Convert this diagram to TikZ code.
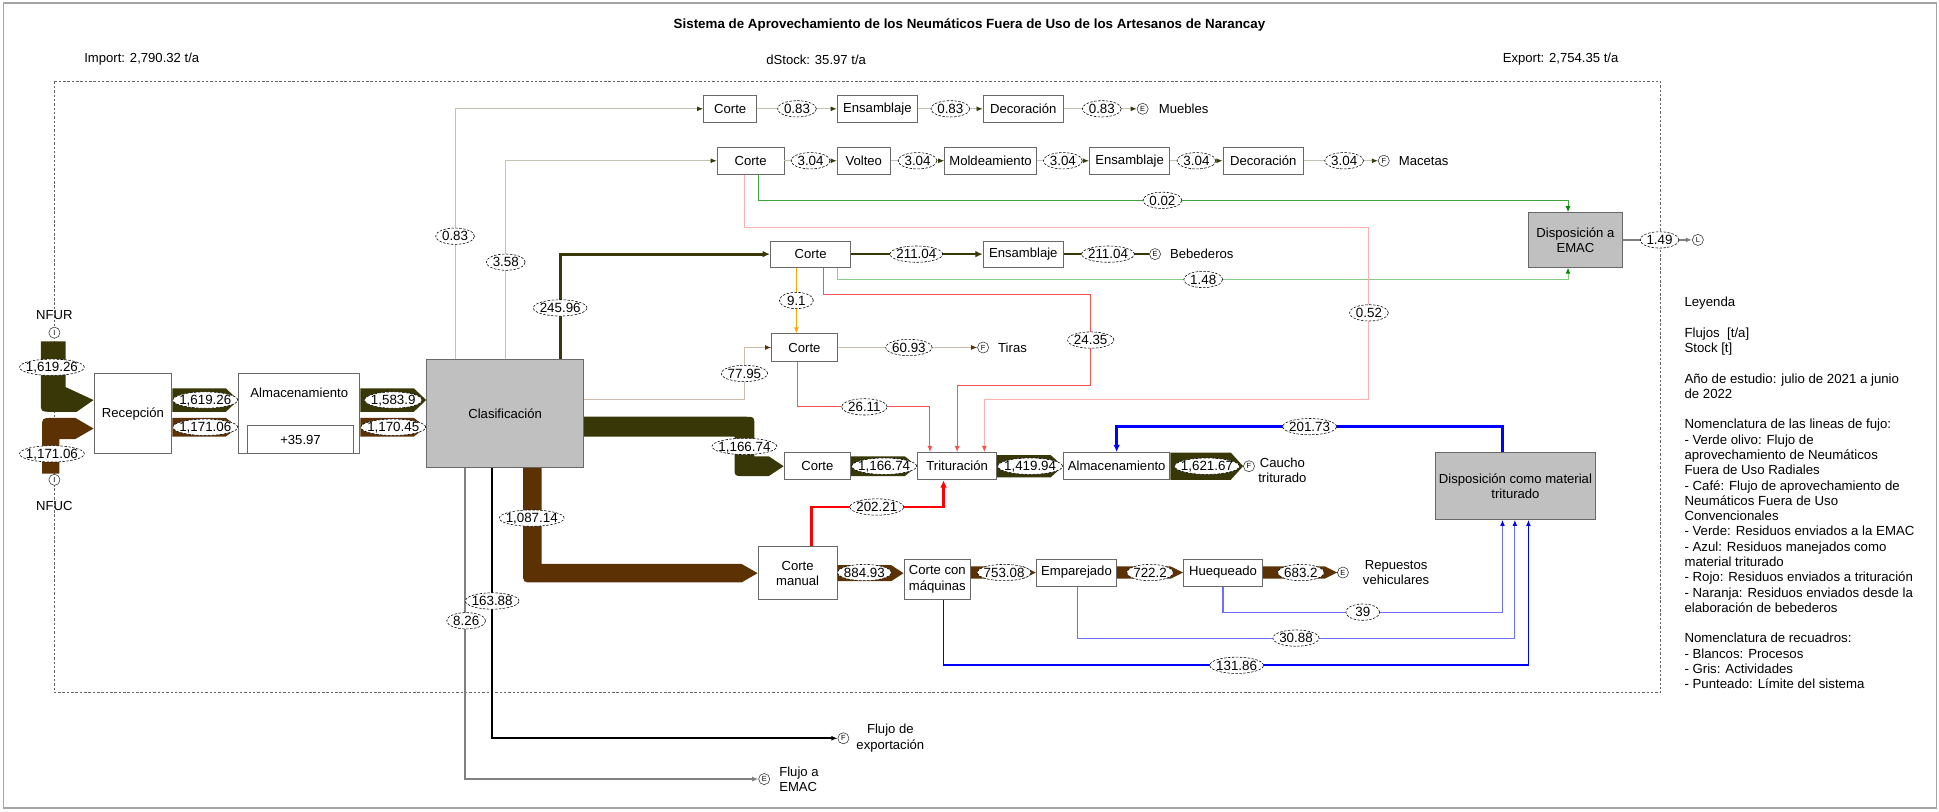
\documentclass[tikz,border=0pt]{standalone}
\usepackage{fontspec}
\setmainfont{Liberation Sans}
\usetikzlibrary{arrows.meta,calc,shapes.geometric}

\definecolor{olv}{RGB}{55,55,8}
\definecolor{brn}{RGB}{92,50,4}
\definecolor{boxline}{RGB}{105,105,105}
\definecolor{actfill}{RGB}{192,192,192}
\definecolor{pale}{RGB}{196,196,178}
\definecolor{tanline}{RGB}{206,190,174}
\definecolor{redA}{RGB}{255,80,80}
\definecolor{redP}{RGB}{255,175,175}
\definecolor{redT}{RGB}{255,0,0}
\definecolor{grnA}{RGB}{60,165,60}
\definecolor{grnP}{RGB}{135,205,135}
\definecolor{grnTip}{RGB}{0,140,0}
\definecolor{blu}{RGB}{0,0,255}
\definecolor{bluP}{RGB}{110,110,255}
\definecolor{org}{RGB}{255,165,0}
\definecolor{bnd}{RGB}{100,100,100}
\definecolor{frame}{RGB}{165,165,165}

\newcommand\nodefont{\fontsize{10.6}{12.4}\selectfont}
\newcommand\labfont{\fontsize{10.8}{12}\selectfont}
\newcommand\legfont{\fontsize{10.7}{12.36}\selectfont}

% flow value in a dashed ellipse: a phantom node gives the size,
% the ellipse is filled over the lines, the value is set on top
\newcommand\flowlab[3]{%
  \node[labsize] (#1) at (#2) {\phantom{#3}};
  \path[labshape] let \p1=($(#1.east)-(#1.center)$) in
    (#1.center) ellipse [x radius=\x1, y radius=6.6pt];
  \node[labtext] (#1t) at (#1.center) {#3};}

% straight Sankey band with an arrow point: colour, from, to, top y, bottom y
\newcommand\flowband[5]{%
  \fill[#1] (#2.east |- 0,#4) -- ($(#3.west |- 0,#4)+(-10,0)$)
    -- ($(#3.west |- 0,#4)!0.5!(#3.west |- 0,#5)$)
    -- ($(#3.west |- 0,#5)+(-10,0)$) -- (#2.east |- 0,#5) -- cycle;}

\begin{document}
\begin{tikzpicture}[x=1pt,y=-1pt,
  procbox/.style={draw=boxline, line width=0.7pt, fill=white, inner sep=1pt, align=center, font=\nodefont},
  actbox/.style={procbox, fill=actfill},
  labsize/.style={rectangle, inner xsep=5pt, inner ysep=0pt, minimum width=27pt,
    font=\labfont, text height=7.6pt, text depth=0pt},
  labshape/.style={draw=black, line width=0.45pt, dash pattern=on 2pt off 1.2pt, fill=white},
  labtext/.style={inner sep=0pt, font=\labfont, text height=7.6pt, text depth=0pt},
  term/.style={circle, draw=black!80, line width=0.45pt, fill=white, inner sep=0pt,
    minimum size=9pt, font=\fontsize{6}{6}\selectfont},
  txt/.style={font=\nodefont, inner sep=0pt, align=center},
  tipO/.style={-{Latex[length=5pt,width=4pt,color=olv]}},
  tipB/.style={-{Latex[length=5pt,width=4pt,color=brn]}},
  tip/.style={-{Latex[length=5pt,width=4pt]}},
  thin/.style={line width=0.8pt}]

\useasboundingbox (0,0) rectangle (1568,656);
\draw[frame, line width=1.2pt] (3,2.5) rectangle (1566,653.5);

% header
\node[font=\fontsize{10.8}{12}\selectfont\bfseries] (title) at (784,20)
  {Sistema de Aprovechamiento de los Neumáticos Fuera de Uso de los Artesanos de Narancay};
\node[txt, anchor=west] (imp) at (68,48) {Import: 2,790.32 t/a};
\node[txt] (dst) at (660,48) {dStock: 35.97 t/a};
\node[txt] (exp) at (1262,48) {Export: 2,754.35 t/a};

% system boundary
\draw[bnd, line width=0.6pt, dash pattern=on 2pt off 1.5pt] (44,66) rectangle (1343,560);

% processes and activities
\node[procbox, minimum width=63pt, minimum height=65pt] (rec) at (107.5,334.5) {Recepción};
\node[procbox, minimum width=98pt, minimum height=65pt] (alm) at (242,334.5) {};
\node[txt] (almt) at (242,318) {Almacenamiento};
\node[procbox, minimum width=86pt, minimum height=23pt] (stk) at (243,355.5) {+35.97};
\node[actbox, minimum width=127pt, minimum height=87pt] (cla) at (408.5,334.5) {Clasificación};

\node[procbox, minimum width=43pt, minimum height=22pt] (cM) at (590.5,88) {Corte};
\node[procbox, minimum width=65pt, minimum height=22pt] (eM) at (709.5,88) {Ensamblaje};
\node[procbox, minimum width=65pt, minimum height=22pt] (dM) at (827.5,88) {Decoración};

\node[procbox, minimum width=54pt, minimum height=22pt] (cP) at (607,130) {Corte};
\node[procbox, minimum width=43pt, minimum height=22pt] (vo) at (698.5,130) {Volteo};
\node[procbox, minimum width=74pt, minimum height=22pt] (mo) at (801,130) {Moldeamiento};
\node[procbox, minimum width=65pt, minimum height=22pt] (eP) at (913.5,130) {Ensamblaje};
\node[procbox, minimum width=65pt, minimum height=22pt] (dP) at (1021.5,130) {Decoración};

\node[procbox, minimum width=65pt, minimum height=21pt] (cB) at (655.5,205.5) {Corte};
\node[procbox, minimum width=65pt, minimum height=21pt] (eB) at (827.5,205.5) {Ensamblaje};

\node[procbox, minimum width=53pt, minimum height=22pt] (cT) at (650.5,281) {Corte};

\node[procbox, minimum width=54pt, minimum height=22pt] (cC) at (661,377) {Corte};
\node[procbox, minimum width=64pt, minimum height=22pt] (tri) at (774,377) {Trituración};
\node[procbox, minimum width=86pt, minimum height=22pt] (alm2) at (903,377) {Almacenamiento};

\node[actbox, minimum width=129pt, minimum height=54pt] (dmt) at (1225.5,393) {Disposición como material\\triturado};
\node[actbox, minimum width=76pt, minimum height=44pt] (emac) at (1274,194) {Disposición a\\EMAC};

\node[procbox, minimum width=64pt, minimum height=43pt] (cm) at (645,463.5) {Corte\\manual};
\node[procbox, minimum width=54pt, minimum height=33pt] (cq) at (758,468.5) {Corte con\\máquinas};
\node[procbox, minimum width=65pt, minimum height=22pt] (em) at (870.5,463) {Emparejado};
\node[procbox, minimum width=64pt, minimum height=22pt] (hu) at (989,463) {Huequeado};

% imports and exits
\node[term] (inR) at (44,269) {I};
\node[txt] (tR) at (44,255) {NFUR};
\node[term] (inC) at (44,388) {I};
\node[txt] (tC) at (44,409) {NFUC};

\node[term] (xMue) at (924,88) {E};
\node[txt, anchor=west] (tMue) at (937,88) {Muebles};
\node[term] (xMac) at (1119,130) {F};
\node[txt, anchor=west] (tMac) at (1131,130) {Macetas};
\node[term] (xBeb) at (934,205.5) {E};
\node[txt, anchor=west] (tBeb) at (946,205.5) {Bebederos};
\node[term] (xTir) at (795,281) {F};
\node[txt, anchor=west] (tTir) at (807,281) {Tiras};
\node[term] (xCau) at (1010,377) {F};
\node[txt, anchor=north] (tCau) at (1037,370) {Caucho\\triturado};
\node[term] (xRep) at (1086,463) {E};
\node[txt] (tRep) at (1129,463) {Repuestos\\vehiculares};
\node[term] (xL) at (1373,194) {L};
\node[term] (xExp) at (682,597) {F};
\node[txt] (tExp) at (720,597) {Flujo de\\exportación};
\node[term] (xEmc) at (618,630) {E};
\node[txt, anchor=west, align=left] (tEmc) at (630,630) {Flujo a\\EMAC};

% incoming bands
\fill[olv] (33,276) -- (53,276) -- (53,313) -- (rec.west |- 0,323.5) -- (62,333) -- (41,333)
  .. controls (33,333) .. (33,325) -- cycle;
\fill[brn] (34,383) -- (34,346) .. controls (34,338) .. (42,338) -- (61,338)
  -- (rec.west |- 0,346.5) -- (61,355) -- (48,355) -- (48,383) -- cycle;

% bands between boxes
\flowband{olv}{rec}{alm}{314}{333}
\flowband{brn}{rec}{alm}{338}{353}
\flowband{olv}{alm}{cla}{314}{333}
\flowband{brn}{alm}{cla}{338}{353}
\flowband{olv}{cC}{tri}{369}{385}
\flowband{olv}{tri}{alm2}{368}{386}
\flowband{olv}{alm2}{xCau}{366}{388}
\flowband{brn}{cm}{cq}{457}{470}
\flowband{brn}{cq}{em}{458}{468}
\flowband{brn}{em}{hu}{458}{468}
\flowband{brn}{hu}{xRep}{458}{468}

\fill[olv] (cla.east |- 0,337) -- (603,337) .. controls (610,337) .. (610,344) -- (610,369)
  -- ($(cC.west |- 0,369)+(-12,0)$) -- (cC.west) -- ($(cC.west |- 0,385)+(-12,0)$)
  -- (601,385) .. controls (594,385) .. (594,378) -- (594,353) -- (cla.east |- 0,353) -- cycle;
\fill[brn] (cla.south -| 423,0) -- (cla.south -| 438,0) -- (438,456)
  -- ($(cm.west |- 0,456)+(-13,0)$) -- (cm.west) -- ($(cm.west |- 0,471)+(-13,0)$)
  -- (431,471) .. controls (423,471) .. (423,463) -- cycle;

% flows leaving the classification
\draw[pale, thin, tipO] (cla.north -| 368,0) |- (cM.west);
\draw[pale, thin, tipO] (cla.north -| 409,0) |- (cP.west);
\draw[olv, line width=2.4pt, -{Latex[length=6pt,width=5.5pt]}] (cla.north -| 453,0) |- (cB.west);
\draw[tanline, thin, tipB] (cla.east |- 0,323) -| (602,302) |- (cT.west);
\draw[black, line width=1.4pt, tip] (cla.south -| 398,0) |- (xExp.west);
\draw[black!50, line width=1pt, tip] (cla.south -| 376,0) |- (xEmc.west);

% product lines
\draw[pale, thin, tipO] (cM.east) -- (eM.west);
\draw[pale, thin, tipO] (eM.east) -- (dM.west);
\draw[pale, thin, tipO] (dM.east) -- (xMue.west);
\draw[pale, thin, tipO] (cP.east) -- (vo.west);
\draw[pale, thin, tipO] (vo.east) -- (mo.west);
\draw[pale, thin, tipO] (mo.east) -- (eP.west);
\draw[pale, thin, tipO] (eP.east) -- (dP.west);
\draw[pale, thin, tipO] (dP.east) -- (xMac.west);
\draw[olv, line width=2.2pt, -{Latex[length=6pt,width=5.5pt]}] (cB.east) -- (eB.west);
\draw[olv, line width=2.2pt] (eB.east) -- (xBeb.west);
\draw[tanline, thin, tipB] (cT.east) -- (xTir.west);
\draw[black!50, line width=1.6pt, tip] (emac.east) -- (xL.west);

% residues
\draw[org, thin, tip] (cB.south -| 644,0) -- (cT.north -| 644,0);
\draw[redA, thin, tip] (cB.south -| 666,0) |- (882,238) |- (774,312) -- (tri.north -| 774,0);
\draw[grnP, thin, -{Latex[length=5pt,width=4pt,color=grnTip]}] (cB.south -| 677,0) |- (1268,226) -- (emac.south -| 1268,0);
\draw[grnA, thin, -{Latex[length=5pt,width=4pt,color=grnTip]}] (cP.south -| 613,0) |- (1268,162) -- (emac.north -| 1268,0);
\draw[redP, thin, -{Latex[length=5pt,width=4pt,color=redA]}] (cP.south -| 602,0) |- (1107,184) |- (796,323) -- (tri.north -| 796,0);
\draw[redA, thin, tip] (cT.south -| 645,0) |- (752,329) -- (tri.north -| 752,0);
\draw[redT, line width=2.2pt, -{Latex[length=6pt,width=5.5pt]}] (cm.north -| 656,0) |- (763,410) -- (tri.south -| 763,0);
\draw[blu, line width=2.2pt, -{Latex[length=6pt,width=5.5pt]}] (dmt.north -| 1215,0) |- (903,345) -- (alm2.north);
\draw[blu, line width=1.5pt, tip] (cq.south -| 763,0) |- (1236,538) -- (dmt.south -| 1236,0);
\draw[bluP, line width=0.9pt, -{Latex[length=5pt,width=4pt,color=blu]}] (em.south -| 871,0) |- (1225,516) -- (dmt.south -| 1225,0);
\draw[bluP, line width=0.9pt, -{Latex[length=5pt,width=4pt,color=blu]}] (hu.south -| 989,0) |- (1215,495) -- (dmt.south -| 1215,0);

% flow values
\flowlab{l1}{42,297}{1,619.26}
\flowlab{l2}{42,367}{1,171.06}
\flowlab{l3}{166,323.5}{1,619.26}
\flowlab{l4}{166,345.5}{1,171.06}
\flowlab{l5}{318,323.5}{1,583.9}
\flowlab{l6}{318,345.5}{1,170.45}
\flowlab{l7}{368,191}{0.83}
\flowlab{l8}{409,212}{3.58}
\flowlab{l9}{453,249}{245.96}
\flowlab{l10}{602,302}{77.95}
\flowlab{l11}{602,361}{1,166.74}
\flowlab{l12}{430,419}{1,087.14}
\flowlab{l13}{398,486}{163.88}
\flowlab{l14}{377,502}{8.26}
\flowlab{m1}{644.5,88}{0.83}
\flowlab{m2}{768.5,88}{0.83}
\flowlab{m3}{891,88}{0.83}
\flowlab{p1}{655.5,130}{3.04}
\flowlab{p2}{742,130}{3.04}
\flowlab{p3}{859.5,130}{3.04}
\flowlab{p4}{967.5,130}{3.04}
\flowlab{p5}{1087,130}{3.04}
\flowlab{b1}{741,205.5}{211.04}
\flowlab{b2}{896,205.5}{211.04}
\flowlab{g1}{940,162}{0.02}
\flowlab{g2}{973,226}{1.48}
\flowlab{o1}{644,243}{9.1}
\flowlab{r1}{882,275}{24.35}
\flowlab{r2}{1107,253}{0.52}
\flowlab{t1}{735,281}{60.93}
\flowlab{r3}{699,329}{26.11}
\flowlab{k1}{715,377}{1,166.74}
\flowlab{k2}{833,377}{1,419.94}
\flowlab{k3}{976,377}{1,621.67}
\flowlab{r4}{709,410}{202.21}
\flowlab{u1}{1059,345}{201.73}
\flowlab{e1}{1342,194}{1.49}
\flowlab{c1}{699,463}{884.93}
\flowlab{c2}{812,463}{753.08}
\flowlab{c3}{930,463}{722.2}
\flowlab{c4}{1052,463}{683.2}
\flowlab{u2}{1102,495}{39}
\flowlab{u3}{1048,516}{30.88}
\flowlab{u4}{1000,538}{131.86}

% legend
\node[anchor=north west, align=left, inner sep=0pt, font=\legfont] (leg) at (1362,240) {%
Leyenda\\[12.36pt]
Flujos\ \ [t/a]\\
Stock [t]\\[12.36pt]
Año de estudio: julio de 2021 a junio\\
de 2022\\[12.36pt]
Nomenclatura de las lineas de fujo:\\
- Verde olivo: Flujo de\\
aprovechamiento de Neumáticos\\
Fuera de Uso Radiales\\
- Café: Flujo de aprovechamiento de\\
Neumáticos Fuera de Uso\\
Convencionales\\
- Verde: Residuos enviados a la EMAC\\
- Azul: Residuos manejados como\\
material triturado\\
- Rojo: Residuos enviados a trituración\\
- Naranja: Residuos enviados desde la\\
elaboración de bebederos\\[12.36pt]
Nomenclatura de recuadros:\\
- Blancos: Procesos\\
- Gris: Actividades\\
- Punteado: Límite del sistema};
\end{tikzpicture}
\end{document}
